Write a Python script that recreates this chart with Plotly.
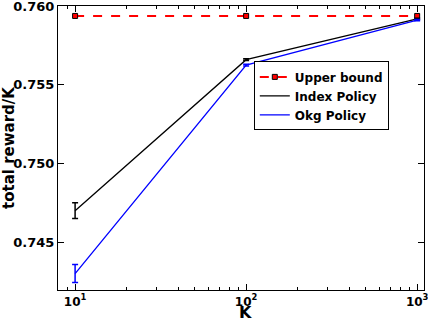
import plotly.graph_objects as go

# values
k_values = [10, 100, 1000]
upper_bound = [0.75937, 0.75937, 0.75937]
index_policy = [0.74703, 0.75660, 0.75918]
index_err = [0.00050, 0.00006, 0.00004]
okg_policy = [0.74304, 0.75625, 0.75910]
okg_err = [0.00057, 0.00006, 0.00004]
minor_vals = [v * d for d in (1, 10, 100) for v in range(2, 10)]

font_bold = "DejaVu Sans"

fig = go.Figure()

fig.add_trace(go.Scatter(
    x=k_values, y=upper_bound, name="Upper bound", mode="lines+markers",
    line=dict(color="#ff0000", width=2, dash="dash"),
    marker=dict(symbol="square", size=5, color="#ff0000", line=dict(color="black", width=1)),
))
fig.add_trace(go.Scatter(
    x=k_values, y=index_policy, name="Index Policy", mode="lines",
    line=dict(color="black", width=1.3),
    error_y=dict(type="data", array=index_err, color="black", thickness=1.5, width=3),
))
fig.add_trace(go.Scatter(
    x=k_values, y=okg_policy, name="Okg Policy", mode="lines",
    line=dict(color="#0000ff", width=1.3),
    error_y=dict(type="data", array=okg_err, color="#0000ff", thickness=1.5, width=3),
))

axis_common = dict(
    showline=True, linecolor="black", linewidth=1.2, mirror="ticks",
    ticks="inside", ticklen=6, tickcolor="black", showgrid=False, zeroline=False,
    automargin=False, ticklabeloverflow="allow",
)

fig.update_layout(
    xaxis=dict(
        type="log", range=[0.9, 3.04],
        tickvals=[10, 100, 1000],
        ticktext=["10<sup>1</sup>", "10<sup>2</sup>", "10<sup>3</sup>"],
        tickfont=dict(family=font_bold, size=12, color="black", weight="bold"),
        minor=dict(tickmode="array", tickvals=minor_vals, ticks="inside",
                   ticklen=3, tickcolor="black", showgrid=False),
        **axis_common,
    ),
    yaxis=dict(
        range=[0.742, 0.760],
        tickvals=[0.745, 0.750, 0.755, 0.760],
        ticktext=["0.745", "0.750", "0.755", "0.760"],
        tickfont=dict(family=font_bold, size=13, color="black", weight="bold"),
        title=dict(text="total reward/K", font=dict(family=font_bold, size=15, color="black", weight="bold"), standoff=3),
        **axis_common,
    ),
    width=428, height=324,
    margin=dict(l=58, r=4, t=6, b=34),
    plot_bgcolor="white", paper_bgcolor="white",
    legend=dict(
        x=0.535, y=0.805, xanchor="left", yanchor="top",
        bordercolor="black", borderwidth=1, bgcolor="white",
        font=dict(family=font_bold, size=12, color="black", weight="bold"),
        tracegroupgap=0, itemwidth=30,
    ),
)

# x-axis title placed as an annotation so it sits below the superscript labels
fig.add_annotation(
    text="K", xref="paper", yref="paper", x=0.513, y=0, xanchor="center",
    yanchor="bottom", yshift=-34, showarrow=False,
    font=dict(family=font_bold, size=16, color="black", weight="bold"),
)

# the page body has an 8px default margin; drop it so the figure sits at 0,0
fig.write_html("out.html", config={"displayModeBar": False},
               post_script="document.body.style.margin='0';")
